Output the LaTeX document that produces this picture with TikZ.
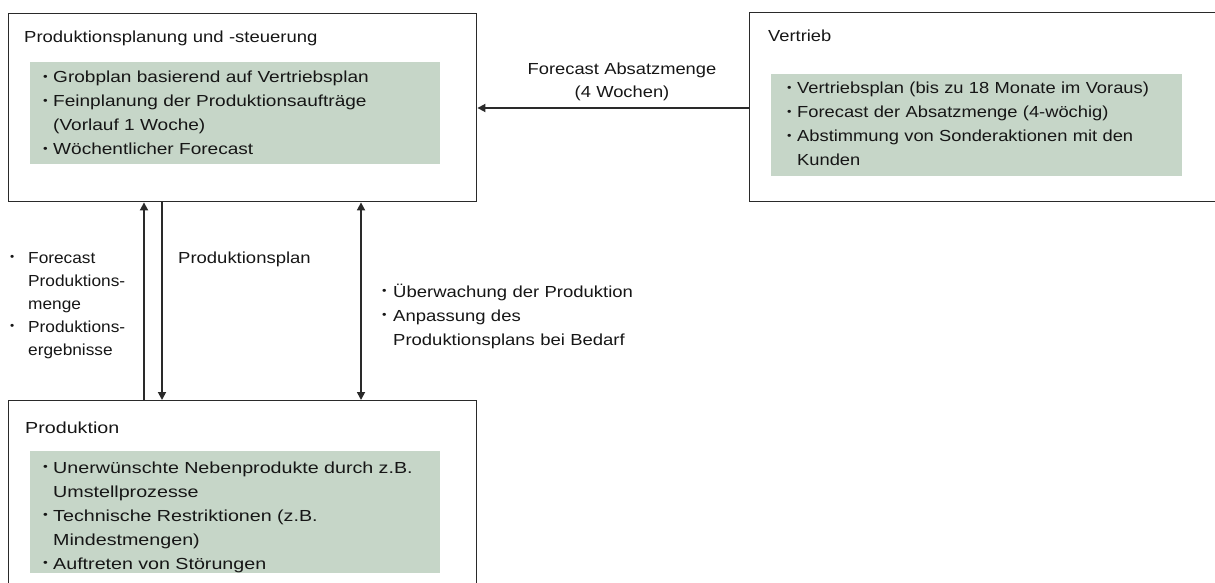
\documentclass[tikz,border=0pt]{standalone}
\usepackage{fontspec}
\setmainfont{Liberation Sans}
\newfontfamily\fontA[FakeStretch=1.08]{Liberation Sans}
\newfontfamily\fontB[FakeStretch=1.145]{Liberation Sans}
\newfontfamily\fontC[FakeStretch=1.155]{Liberation Sans}
\newfontfamily\fontD[FakeStretch=1.19]{Liberation Sans}
\newfontfamily\fontE[FakeStretch=1.23]{Liberation Sans}
\usetikzlibrary{arrows.meta}
\definecolor{boxgreen}{HTML}{C6D6C8}
\definecolor{linegray}{HTML}{2A2A2A}
\definecolor{textgray}{HTML}{161616}
\newcommand{\bulsym}{\raisebox{0.28ex}{\fontsize{11}{11}\selectfont •}}
\newcommand{\itm}[2][10pt]{\noindent\hangindent=#1\hangafter=1\makebox[#1][l]{\bulsym}#2\par}
\tikzset{
  frame/.style={draw=linegray, line width=1.4pt, inner sep=0pt, anchor=north west},
  greenbox/.style={fill=boxgreen, draw=none, inner sep=0pt, anchor=north west},
  txt/.style={inner sep=0pt, anchor=base west, text=textgray, text width=#1, align=left},
  txt/.default=420pt,
  arr/.style={draw=linegray, line width=1.7pt, -{Triangle[length=8pt,width=8pt]}},
  darr/.style={draw=linegray, line width=1.7pt, {Triangle[length=8pt,width=8pt]}-{Triangle[length=8pt,width=8pt]}}
}
\begin{document}
\begin{tikzpicture}[x=1pt,y=-1pt, font=\fontsize{16}{24}\selectfont]
\useasboundingbox (0,0) rectangle (1215,583);
\clip (0,0) rectangle (1215,583);
% boxes
\node[frame, minimum width=468pt, minimum height=188pt] (pps) at (8,13) {};
\node[frame, minimum width=480pt, minimum height=189pt] (vert) at (749,12) {};
\node[frame, minimum width=468pt, minimum height=250pt] (prod) at (8,400) {};
\node[greenbox, minimum width=410pt, minimum height=102pt] (ppsg) at (30,62) {};
\node[greenbox, minimum width=411pt, minimum height=102pt] (vertg) at (771,74) {};
\node[greenbox, minimum width=410pt, minimum height=122pt] (prodg) at (30,451) {};
% box texts
\node[txt, font=\fontsize{16}{24}\fontC] (ppst) at (24,43) {Produktionsplanung und -steuerung};
\node[txt=395pt, font=\fontsize{16}{24}\fontD] (ppsi) at (43,83) {\itm{Grobplan basierend auf Vertriebsplan}\itm{Feinplanung der Produktionsaufträge\newline(Vorlauf 1 Woche)}\itm{Wöchentlicher Forecast}};
\node[txt, font=\fontsize{16}{24}\fontB] (vertt) at (768,42) {Vertrieb};
\node[txt=395pt, font=\fontsize{16}{24}\fontB] (verti) at (787,94) {\itm{Vertriebsplan (bis zu 18 Monate im Voraus)}\itm{Forecast der Absatzmenge (4-wöchig)}\itm{Abstimmung von Sonderaktionen mit den\newline Kunden}};
\node[txt, font=\fontsize{16}{24}\fontE] (prodt) at (25,433) {Produktion};
\node[txt=400pt, font=\fontsize{16}{24}\fontE] (prodi) at (43,473) {\itm{Unerwünschte Nebenprodukte durch z.B.\newline Umstellprozesse}\itm{Technische Restriktionen (z.B.\newline Mindestmengen)}\itm{Auftreten von Störungen}};
% connector helpers
\coordinate (cup) at (144,300);
\coordinate (cdown) at (162,300);
\coordinate (cboth) at (361,300);
\coordinate (chor) at (600,108);
% connectors
\draw[arr] (vert.west |- chor) -- (pps.east |- chor);
\draw[arr] (prod.north -| cup) -- (pps.south -| cup);
\draw[arr] (pps.south -| cdown) -- (prod.north -| cdown);
\draw[darr] (pps.south -| cboth) -- (prod.north -| cboth);
% connector labels
\node[txt=220pt, anchor=base, align=center, font=\fontsize{16}{23}\fontB] (fal) at (622,75) {Forecast Absatzmenge\\(4 Wochen)};
\node[txt=125pt, font=\fontsize{16}{23}\fontA] (fpl) at (10,263) {\itm[18pt]{Forecast\newline Produktions-\newline menge}\itm[18pt]{Produktions-\newline ergebnisse}};
\node[txt, font=\fontsize{16}{24}\fontC] (ppl) at (178,263) {Produktionsplan};
\node[txt=300pt, font=\fontsize{16}{24}\fontC] (uel) at (382,297) {\itm[11pt]{Überwachung der Produktion}\itm[11pt]{Anpassung des\newline Produktionsplans bei Bedarf}};
\end{tikzpicture}
\end{document}
